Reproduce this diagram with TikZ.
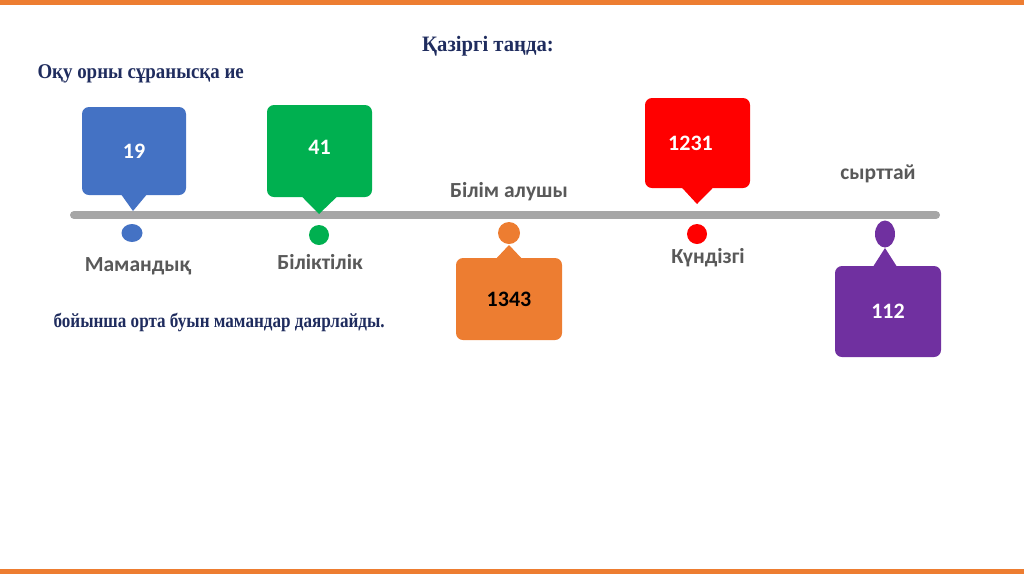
\documentclass[tikz,border=0pt]{standalone}
\usepackage{fontspec}
\setmainfont{Liberation Serif}
\setsansfont{Carlito}
\usetikzlibrary{shapes.geometric}

\definecolor{slideorange}{HTML}{ED7D31}
\definecolor{slidenavy}{HTML}{1F2C5E}
\definecolor{linegray}{HTML}{A6A6A6}
\definecolor{labelgray}{HTML}{595959}
\definecolor{boxblue}{HTML}{4472C4}
\definecolor{boxgreen}{HTML}{00B050}
\definecolor{boxred}{HTML}{FF0000}
\definecolor{boxpurple}{HTML}{7030A0}

\tikzset{
  callbox/.style={rounded corners=7pt, inner sep=0pt, text=white,
    font=\sffamily\bfseries\fontsize{22}{22}\selectfont},
  dot/.style={ellipse, inner sep=0pt},
  lbl/.style={text=labelgray, font=\sffamily\bfseries\fontsize{21.5}{21.5}\selectfont},
  head/.style={text=slidenavy, font=\bfseries\fontsize{22}{22}\selectfont\addfontfeatures{FakeStretch=0.94}},
}

\begin{document}
\begin{tikzpicture}[x=1pt, y=-1pt]
  \useasboundingbox (0,0) rectangle (1024,574);
  % orange bars of the slide
  \fill[slideorange] (0,0) rectangle (1024,5);
  \fill[slideorange] (0,569) rectangle (1024,574);

  % headings
  \node[head] (title) at (488,46) {Қазіргі таңда:};
  \node[head, font=\bfseries\fontsize{21}{21}\selectfont\addfontfeatures{FakeStretch=0.9}, anchor=west] (demand) at (34,74) {Оқу орны сұранысқа ие};
  \node[head, font=\bfseries\fontsize{20}{20}\selectfont\addfontfeatures{FakeStretch=0.855}, anchor=west] (note) at (50,322) {бойынша орта буын мамандар даярлайды.};

  % timeline
  \coordinate (tlstart) at (74,215);
  \coordinate (tlend) at (936,215);
  \draw[linegray, line width=8pt, line cap=round] (tlstart) -- (tlend);

  % dots on the timeline
  \node[dot, fill=boxblue, minimum width=21pt, minimum height=18pt] (dblue) at (132,233) {};
  \node[dot, fill=boxgreen, minimum width=20pt, minimum height=20pt] (dgreen) at (319,235) {};
  \node[dot, fill=slideorange, minimum width=22pt, minimum height=22pt] (dorange) at (509,233) {};
  \node[dot, fill=boxred, minimum width=20pt, minimum height=20pt] (dred) at (697,234) {};
  \node[dot, fill=boxpurple, minimum width=20pt, minimum height=27pt] (dpurple) at (885,234) {};

  % callouts above the line
  \node[callbox, fill=boxblue, minimum width=104pt, minimum height=88pt] (b19) at (134,151) {19};
  \coordinate (p19) at (133,211);
  \fill[boxblue] ([xshift=-13pt,yshift=1pt]b19.south) -- (p19) -- ([xshift=13pt,yshift=1pt]b19.south) -- cycle;

  \node[callbox, fill=boxgreen, minimum width=105pt, minimum height=92pt] (b41) at (319.5,151) {\raisebox{8pt}{41}};
  \coordinate (p41) at (319,214);
  \fill[boxgreen] ([xshift=-18pt,yshift=1pt]b41.south) -- (p41) -- ([xshift=18pt,yshift=1pt]b41.south) -- cycle;

  \node[callbox, fill=boxred, minimum width=105pt, minimum height=90pt] (b1231) at (697.5,143) {\hspace*{-14pt}1231};
  \coordinate (p1231) at (697,204);
  \fill[boxred] ([xshift=-16pt,yshift=1pt]b1231.south) -- (p1231) -- ([xshift=16pt,yshift=1pt]b1231.south) -- cycle;

  % callouts below the line
  \node[callbox, fill=slideorange, text=black, minimum width=106pt, minimum height=82pt] (b1343) at (509,299) {1343};
  \coordinate (p1343) at (509,245);
  \fill[slideorange] ([xshift=-13pt,yshift=-1pt]b1343.north) -- (p1343) -- ([xshift=13pt,yshift=-1pt]b1343.north) -- cycle;

  \node[callbox, fill=boxpurple, minimum width=106pt, minimum height=91pt] (b112) at (888,311.5) {112};
  \coordinate (p112) at (885,248);
  \fill[boxpurple] ([xshift=-15pt,yshift=-1pt]b112.north) -- (p112) -- ([xshift=9pt,yshift=-1pt]b112.north) -- cycle;

  % labels
  \node[lbl] (lspec) at (138,266) {Мамандық};
  \node[lbl] (lqual) at (320,262) {Біліктілік};
  \node[lbl] (lstud) at (509,192) {Білім алушы};
  \node[lbl] (lday) at (708,258) {Күндізгі};
  \node[lbl] (lext) at (878,174) {сырттай};
\end{tikzpicture}
\end{document}
